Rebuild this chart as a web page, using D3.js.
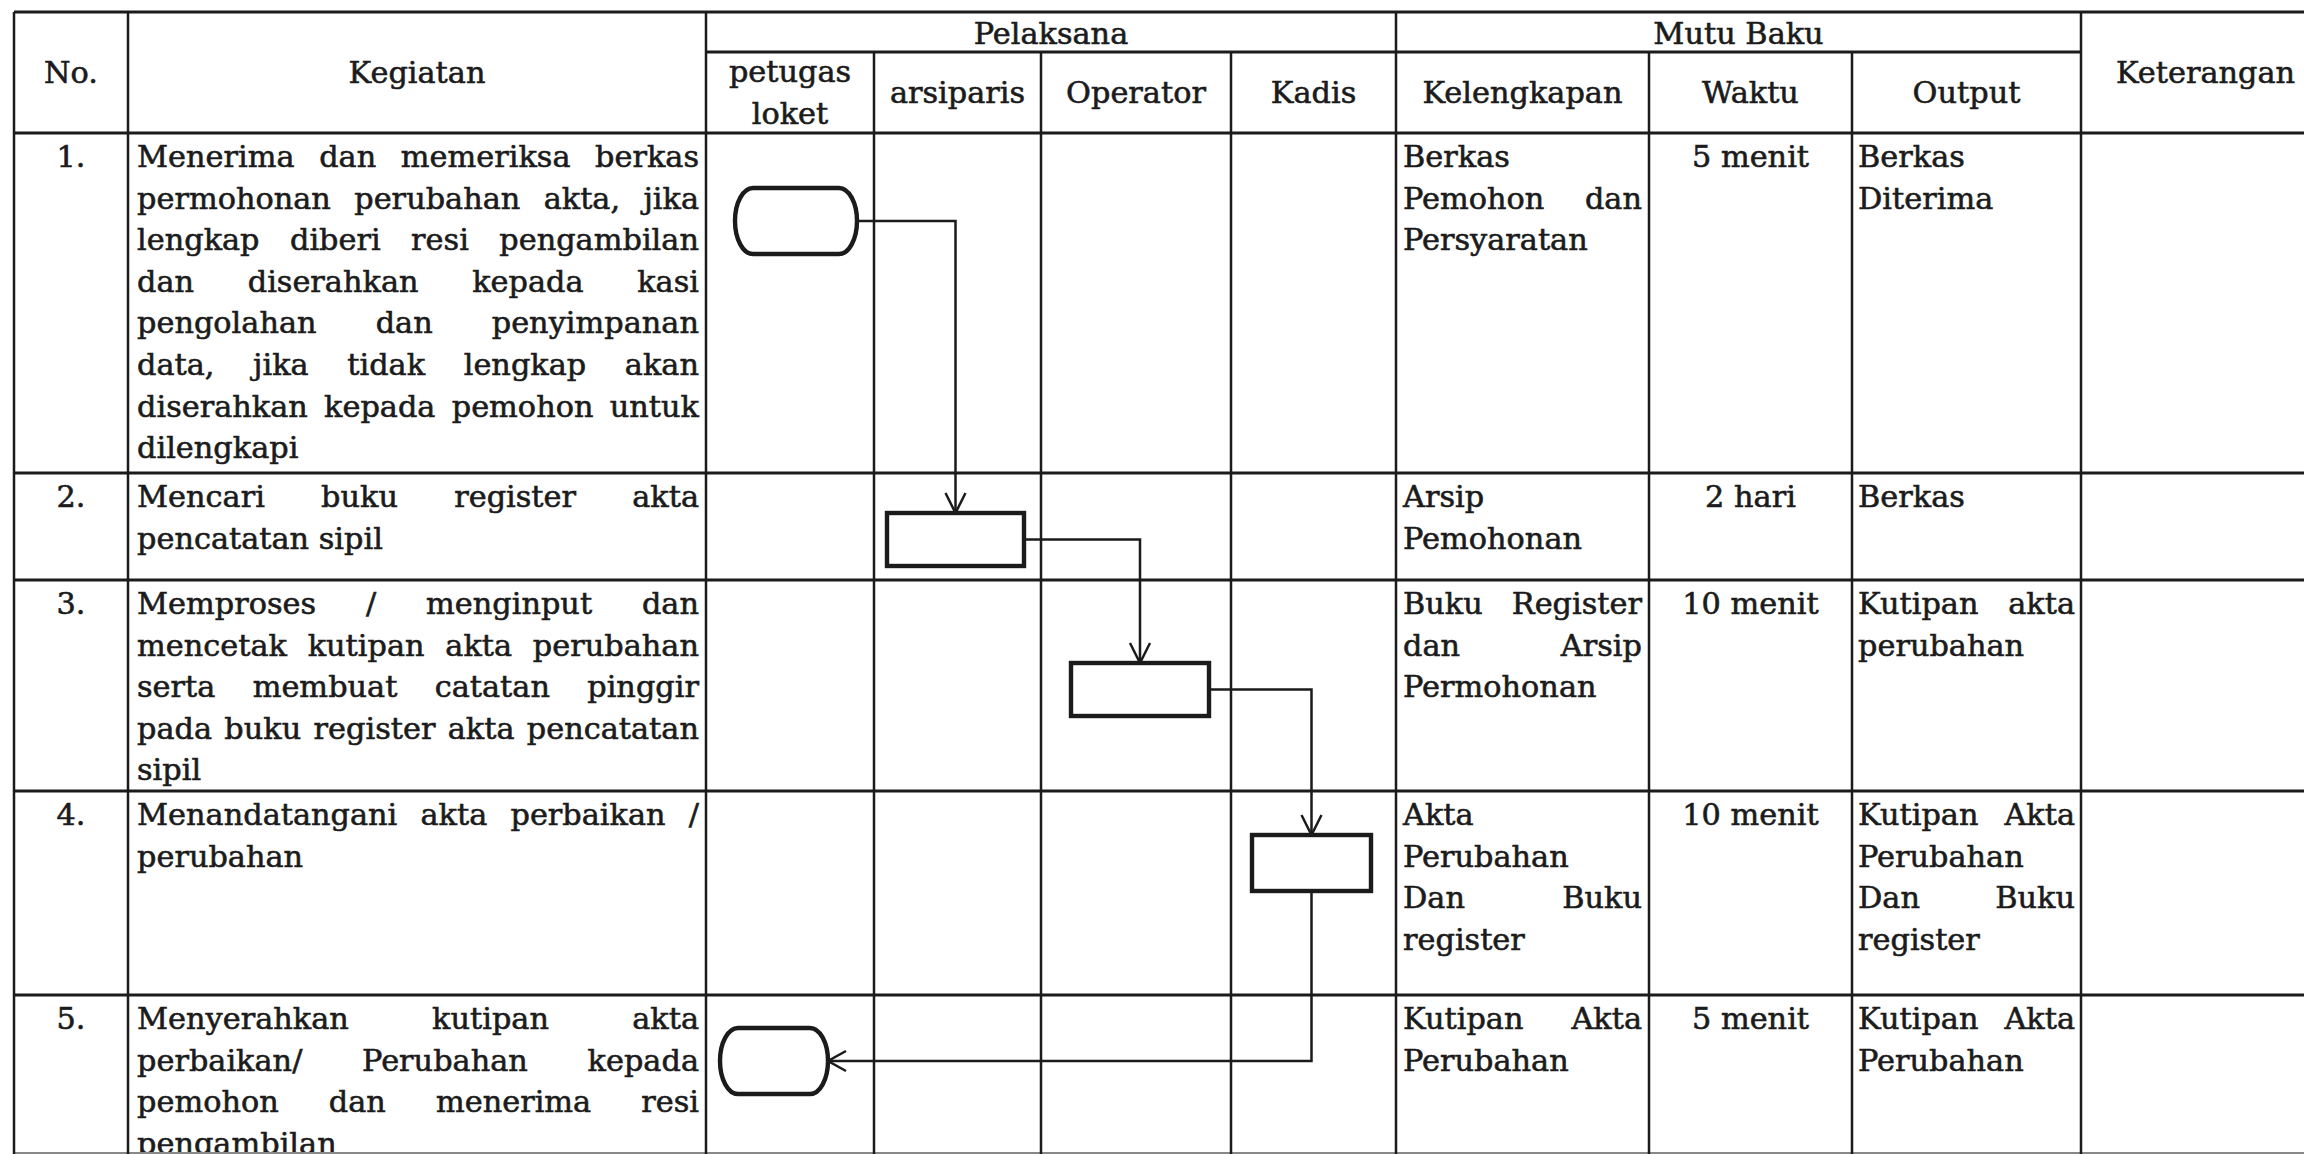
<!DOCTYPE html>
<html><head><meta charset="utf-8">
<script src="https://cdn.jsdelivr.net/npm/d3@7"></script>
<style>html,body{margin:0;padding:0;background:#fff;overflow:hidden}</style>
</head><body>
<svg id="chart" width="2304" height="1154"></svg>
<script>
// ---------------- DATA ----------------
const columnKeys = ["no","kegiatan","loket","arsiparis","operator","kadis","kelengkapan","waktu","output","keterangan"];
const columnLabels = [["No."],["Kegiatan"],["petugas","loket"],["arsiparis"],["Operator"],["Kadis"],["Kelengkapan"],["Waktu"],["Output"],["Keterangan"]];
const groupLabels = ["Pelaksana","Mutu Baku"];
const groupSpans = [["loket","kadis"],["kelengkapan","output"]];
const stepNumbers = ["1.","2.","3.","4.","5."];
const kegiatan = [
  ["Menerima dan memeriksa berkas","permohonan perubahan akta, jika","lengkap diberi resi pengambilan","dan diserahkan kepada kasi","pengolahan dan penyimpanan","data, jika tidak lengkap akan","diserahkan kepada pemohon untuk","dilengkapi"],
  ["Mencari buku register akta","pencatatan sipil"],
  ["Memproses / menginput dan","mencetak kutipan akta perubahan","serta membuat catatan pinggir","pada buku register akta pencatatan","sipil"],
  ["Menandatangani akta perbaikan /","perubahan"],
  ["Menyerahkan kutipan akta","perbaikan/ Perubahan kepada","pemohon dan menerima resi","pengambilan"]
];
const kelengkapan = [
  ["Berkas","Pemohon dan","Persyaratan"],
  ["Arsip","Pemohonan"],
  ["Buku Register","dan Arsip","Permohonan"],
  ["Akta","Perubahan","Dan Buku","register"],
  ["Kutipan Akta","Perubahan"]
];
const waktu = ["5 menit","2 hari","10 menit","10 menit","5 menit"];
const outputs = [
  ["Berkas","Diterima"],
  ["Berkas"],
  ["Kutipan akta","perubahan"],
  ["Kutipan Akta","Perubahan","Dan Buku","register"],
  ["Kutipan Akta","Perubahan"]
];
const stepLane = ["loket","arsiparis","operator","kadis","loket"];
const stepShape = ["terminator","process","process","process","terminator"];

// ---------------- LAYOUT ----------------
const colEdges = [14,128,706,874,1041,1231,1396,1649,1852,2081,2330];
const headerTop = 12, groupLineY = 52, headerBottom = 133;
const rowEdges = [133,473,580,791,995,1153];
const shapeLayout = [
  {dx:6,  dy:88,   w:122, h:66},
  {dx:-2, dy:66.5, w:137, h:53},
  {dx:4,  dy:109.5,w:138, h:53},
  {dx:-2, dy:72,   w:119, h:56},
  {dx:-16,dy:66,   w:108, h:66}
];
const FONT = "DejaVu Serif", FS = 27.5, LH = 41.6, SY = 1.06;
const INK = "#1b1b1b";

const svg = d3.select("#chart");
svg.append("rect").attr("width",2304).attr("height",1154).attr("fill","#fff");

const xL = d3.scaleOrdinal().domain(columnKeys).range(colEdges.slice(0,-1));
const xR = d3.scaleOrdinal().domain(columnKeys).range(colEdges.slice(1));
const xC = k => (xL(k)+xR(k))/2;
const yT = d3.scaleOrdinal().domain(stepNumbers).range(rowEdges.slice(0,-1));

const tmp = svg.append("text").attr("font-family",FONT).attr("font-size",FS).attr("opacity",0);
function measure(s){ tmp.text(s); return tmp.node().getComputedTextLength(); }
const calib = [["pencatatan sipil",249],["dilengkapi",159],["Kelengkapan",200],["Persyaratan",190],["Operator",138],["Keterangan",177]];
const sx = d3.mean(calib, c => c[1]/measure(c[0]));

const textG = svg.append("g").attr("font-family",FONT).attr("font-size",FS)
  .attr("fill",INK).attr("stroke",INK).attr("stroke-width",0.55);
function addText(s,x,y,anchor){
  textG.append("text").attr("transform",`translate(${x},${y}) scale(${sx},${SY})`)
    .attr("text-anchor",anchor).text(s);
}
function paragraph(lines,x0,x1,top,align){
  lines.forEach((line,i)=>{
    const y = top + 34 + i*LH;
    const words = line.split(" ");
    const justify = align==="justify" && i<lines.length-1 && words.length>1;
    if(justify){
      const widths = words.map(w=>measure(w)*sx);
      const gap = (x1-x0-d3.sum(widths))/(words.length-1);
      let x = x0;
      words.forEach((w,j)=>{ addText(w,x,y,"start"); x += widths[j]+gap; });
    } else if(align==="center"){
      addText(line,(x0+x1)/2,y,"middle");
    } else addText(line,x0,y,"start");
  });
}

// ---------------- GRID ----------------
const grid = svg.append("g").attr("stroke",INK).attr("stroke-width",2.5).attr("fill","none");
const hline=(y,x0,x1,c,w)=>grid.append("line").attr("x1",x0).attr("x2",x1).attr("y1",y).attr("y2",y).attr("stroke",c||INK).attr("stroke-width",w||2.8);
const vline=(x,y0,y1)=>grid.append("line").attr("x1",x).attr("x2",x).attr("y1",y0).attr("y2",y1);
hline(headerTop, colEdges[0], 2330);
hline(groupLineY, xL("loket"), xR("output"));
rowEdges.slice(0,-1).forEach(y=>hline(y, colEdges[0], 2330));
hline(rowEdges[rowEdges.length-1], colEdges[0], 2330, "#888", 2);
const fullCols = ["no","kegiatan","loket","kelengkapan","keterangan"];
columnKeys.forEach(k=>{
  vline(xL(k), fullCols.includes(k)?headerTop:groupLineY, 1154);
});

// ---------------- HEADERS ----------------
groupLabels.forEach((g,i)=>{
  const [a,b] = groupSpans[i];
  addText(g,(xL(a)+xR(b))/2,(headerTop+groupLineY)/2+12,"middle");
});
columnKeys.forEach((k,i)=>{
  const lines = columnLabels[i];
  const inGroup = !["no","kegiatan","keterangan"].includes(k);
  const top = inGroup ? groupLineY : headerTop;
  const cy = (top+headerBottom)/2;
  lines.forEach((l,j)=>{
    addText(l,xC(k),cy+10.5+(j-(lines.length-1)/2)*LH,"middle");
  });
});

// ---------------- ROWS ----------------
stepNumbers.forEach((n,i)=>{
  const top = yT(n);
  addText(n,xC("no"),top+34,"middle");
  paragraph(kegiatan[i], xL("kegiatan")+9, xR("kegiatan")-7, top, "justify");
  paragraph(kelengkapan[i], xL("kelengkapan")+7, xR("kelengkapan")-7, top, "justify");
  paragraph([waktu[i]], xL("waktu"), xR("waktu"), top, "center");
  paragraph(outputs[i], xL("output")+6, xR("output")-6, top, "justify");
});

// ---------------- FLOW SHAPES ----------------
const shapes = stepNumbers.map((n,i)=>{
  const L = shapeLayout[i];
  const cx = xC(stepLane[i]) + L.dx, cy = yT(n) + L.dy;
  return {cx, cy, w:L.w, h:L.h, type:stepShape[i],
    x0:cx-L.w/2, x1:cx+L.w/2, y0:cy-L.h/2, y1:cy+L.h/2};
});
const flowG = svg.append("g").attr("fill","none").attr("stroke",INK).attr("stroke-width",2.5);
function arrowDown(x,y){ flowG.append("path").attr("d",`M${x-10},${y-20}L${x},${y}L${x+10},${y-20}`); }
function arrowLeft(x,y){ flowG.append("path").attr("d",`M${x+18},${y-10}L${x},${y}L${x+18},${y+10}`); }
for(let i=0;i<shapes.length-1;i++){
  const a = shapes[i], b = shapes[i+1];
  if(b.cx > a.cx){
    flowG.append("path").attr("d",`M${a.x1},${a.cy}H${b.cx}V${b.y0}`);
    arrowDown(b.cx,b.y0);
  } else {
    flowG.append("path").attr("d",`M${a.cx},${a.y1}V${b.cy}H${b.x1}`);
    arrowLeft(b.x1,b.cy);
  }
}
svg.append("g").selectAll("rect").data(shapes).join("rect")
  .attr("x",d=>d.x0).attr("y",d=>d.y0).attr("width",d=>d.w).attr("height",d=>d.h)
  .attr("rx",d=>d.type==="terminator"?18:0).attr("ry",d=>d.type==="terminator"?d.h/2:0)
  .attr("fill","#fff").attr("stroke",INK).attr("stroke-width",4.4);
tmp.remove();
</script>
</body></html>
